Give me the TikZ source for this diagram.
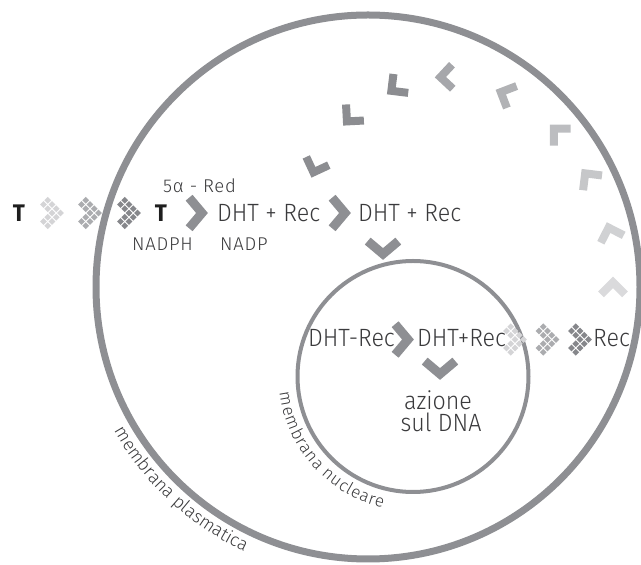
\documentclass[tikz,border=0pt]{standalone}
\usepackage{fontspec}
\usetikzlibrary{decorations.text}
\IfFontExistsTF{Fira Sans Light}
  {\setmainfont{Fira Sans Light}[FakeStretch=0.93]
   \newfontfamily\arcfont{Fira Sans Light}
   \newfontfamily\smallfont{Fira Sans Light}[LetterSpace=4]}
  {\setmainfont{Fira Sans}[FakeStretch=0.93]
   \newfontfamily\arcfont{Fira Sans}
   \newfontfamily\smallfont{Fira Sans}[LetterSpace=4]}
\newfontfamily\heavyfont{Fira Sans}[FakeStretch=0.93]

\definecolor{ring}{HTML}{8E8F93}
\definecolor{txt}{HTML}{3A3A3C}
\definecolor{tdark}{HTML}{1E1E1E}
\definecolor{cA}{HTML}{8C8D91}
\definecolor{cB}{HTML}{A6A7AB}
\definecolor{cC}{HTML}{B1B2B5}
\definecolor{cD}{HTML}{BCBDC0}
\definecolor{cE}{HTML}{C6C7C9}
\definecolor{cF}{HTML}{D0D1D3}
\definecolor{cG}{HTML}{DADADC}
\definecolor{mLight}{HTML}{D4D4D6}
\definecolor{mMid}{HTML}{ABACAF}
\definecolor{mDark}{HTML}{86878B}

\tikzset{
  lbl/.style={text=txt, inner sep=0pt, font=\fontsize{25}{25}\selectfont},
  small/.style={text=txt, inner sep=0pt, font=\smallfont\fontsize{18.5}{18.5}\selectfont},
  tletter/.style={text=tdark, inner sep=0pt, font=\heavyfont\bfseries\fontsize{24}{24}\selectfont},
  % solid arrow chevron, pointing along +x
  solidchev/.pic={\path[pic actions, line width=9pt, line join=miter]
      (-7.9,15.3) -- (5,0) -- (-7.9,-15.3);},
  % right-angled chevron of the receptor return path
  arcchev/.pic={\path[pic actions, line width=8pt, line join=miter]
      (-7.4,12) -- (4.6,0) -- (-7.4,-12);},
  % chevron built from small diamond tiles
  tilechev/.pic={\foreach \m/\n in {0/-2,1/-2,0/-1,1/-1,0/0,1/0,0/1,1/1,-2/0,-2/1,-1/0,-1/1}
      {\path[pic actions] ({(\m+\n)*4.243},{(\m-\n)*4.243})
          +(3.4,0) -- +(0,3.4) -- +(-3.4,0) -- +(0,-3.4) -- cycle;}},
}

\begin{document}
\begin{tikzpicture}[x=1pt,y=1pt]
\useasboundingbox (0,0) rectangle (641,565);

% membranes
\draw[ring, line width=7pt] (368,278) circle[radius=272];
\draw[ring, line width=4pt] (413,188.5) circle[radius=115.5];

% membrane labels, spread along their arcs
\begin{scope}[font=\arcfont\fontsize{17}{17}\selectfont]
\path[decorate, decoration={text effects along path, text={membrana nucleare},
    text effects/.cd, text along path, fit text to path, characters={text=txt}}]
  ([shift={(187:134.5)}]413,188.5) arc[start angle=187, end angle=257, radius=134.5];
\end{scope}
\begin{scope}[font=\arcfont\fontsize{18}{18}\selectfont]
\path[decorate, decoration={text effects along path, text={membrana plasmatica},
    text effects/.cd, text along path, fit text to path, characters={text=txt}}]
  ([shift={(209.5:292)}]368,278) arc[start angle=209.5, end angle=245, radius=292];
\end{scope}

% entry of testosterone
\node[tletter, anchor=base] (t0) at (19,343) {T};
\pic[fill=mLight] (m1) at (52,352) {tilechev};
\pic[fill=mMid]   (m2) at (90,352) {tilechev};
\pic[fill=mDark]  (m3) at (129,352) {tilechev};
\node[tletter, anchor=base] (t1) at (161,343) {T};

% reduction and binding
\node[small, anchor=base west] (red) at (163,372) {5α - Red};
\node[small, anchor=base west] (nadph) at (132,314) {NADPH};
\node[small, anchor=base west] (nadp) at (220,314) {NADP};
\pic[draw=ring] (s1) at (197,352) {solidchev};
\node[lbl, anchor=base west] (d1) at (217,343) {DHT + Rec};
\pic[draw=ring] (s2) at (340,352) {solidchev};
\node[lbl, anchor=base west] (d2) at (358,343) {DHT + Rec};
\pic[draw=ring, rotate=-90] (s3) at (383,316) {solidchev};

% inside the nucleus
\node[lbl, anchor=base west] (dr) at (308,218) {DHT-Rec};
\pic[draw=ring] (s4) at (403,225.5) {solidchev};
\node[lbl, anchor=base west] (dp) at (417,218) {DHT+Rec};
\pic[draw=ring, rotate=-90] (s5) at (440,196) {solidchev};
\node[lbl, anchor=base] (az) at (438,155) {azione};
\node[lbl, anchor=base] (dna) at (441,133) {sul DNA};

% receptor leaving the nucleus
\pic[fill=mLight] (m4) at (515,225.5) {tilechev};
\pic[fill=mMid]   (m5) at (547.5,225.5) {tilechev};
\pic[fill=mDark]  (m6) at (580,225.5) {tilechev};
\node[lbl, anchor=base west] (rec) at (593,218) {Rec};

% receptor recycling path
\pic[draw=cG, rotate=90]  (a9) at (613,278) {arcchev};
\pic[draw=cF, rotate=108] (a8) at (610,333) {arcchev};
\pic[draw=cE, rotate=128] (a7) at (588,388) {arcchev};
\pic[draw=cD, rotate=135] (a6) at (557,433) {arcchev};
\pic[draw=cC, rotate=156] (a5) at (505,471) {arcchev};
\pic[draw=cB, rotate=182] (a4) at (445,488) {arcchev};
\pic[draw=cA, rotate=218] (a3) at (395,477) {arcchev};
\pic[draw=cA, rotate=228] (a2) at (350,447) {arcchev};
\pic[draw=cA, rotate=250] (a1) at (315,397) {arcchev};
\end{tikzpicture}
\end{document}
